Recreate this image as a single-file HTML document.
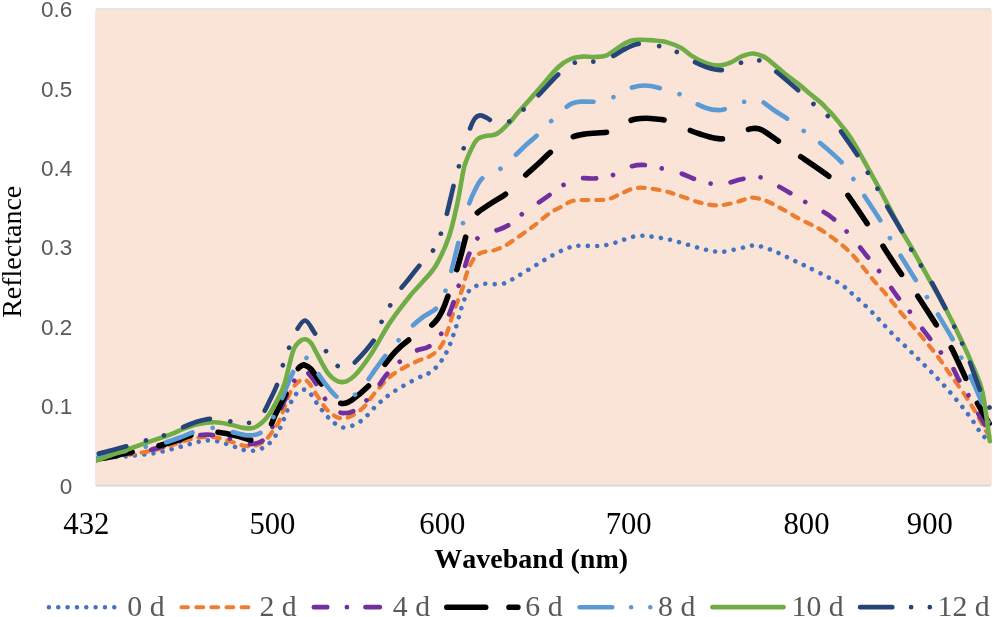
<!DOCTYPE html>
<html><head><meta charset="utf-8"><title>Reflectance</title>
<style>html,body{margin:0;padding:0;background:#fff;overflow:hidden}svg{display:block;transform:translateZ(0);will-change:transform}text{font-family:"Liberation Serif",serif}.s{font-family:"Liberation Sans",sans-serif}</style>
</head><body>
<svg width="993" height="617" viewBox="0 0 993 617">
<rect x="0" y="0" width="993" height="617" fill="#ffffff"/>
<rect x="95.1" y="9.5" width="896.7" height="475.5" fill="#FAE4D7"/>
<line x1="96" y1="9.0" x2="991" y2="9.0" stroke="#E1DEDA" stroke-width="1.3"/>
<line x1="95.5" y1="485.6" x2="991" y2="485.6" stroke="#D5D8DA" stroke-width="1.6"/>
<clipPath id="c"><rect x="96" y="0" width="897" height="617"/></clipPath>
<g fill="none" stroke-linecap="round" stroke-linejoin="round" clip-path="url(#c)">
<path d="M95.5 460.0C97.4 459.6 102.1 458.1 107.1 457.5C112.0 456.9 120.7 456.8 125.2 456.5C129.7 456.2 129.8 456.0 134.3 455.5C138.8 455.0 146.4 454.5 152.4 453.5C158.4 452.5 164.6 451.0 170.6 449.5C176.6 448.0 184.2 445.6 188.7 444.4C193.2 443.1 194.8 442.7 197.8 442.0C200.8 441.3 203.8 440.6 206.8 440.4C209.8 440.2 212.9 440.5 215.9 441.0C218.9 441.5 221.9 442.5 224.9 443.4C227.9 444.3 231.1 445.5 234.0 446.5C236.9 447.5 239.2 448.8 242.1 449.5C244.9 450.2 248.1 451.0 251.1 450.9C254.1 450.8 257.3 450.2 260.2 449.1C263.1 448.0 265.8 446.3 268.2 444.4C270.6 442.4 272.3 440.1 274.3 437.4C276.3 434.7 277.4 433.8 280.0 428.4C282.6 423.0 286.9 410.7 289.7 404.8C292.5 398.9 294.6 395.5 297.0 393.0C299.4 390.5 302.1 389.6 304.3 389.6C306.5 389.6 308.1 391.0 310.0 393.0C311.9 395.0 312.6 397.5 315.7 401.6C318.8 405.7 324.0 413.5 328.6 417.8C333.2 422.1 337.8 427.0 343.2 427.5C348.6 428.0 355.3 424.8 361.0 421.0C366.7 417.2 371.8 409.7 377.2 404.8C382.6 399.9 387.0 396.1 393.5 391.8C400.0 387.5 409.6 382.4 416.1 378.9C422.6 375.4 427.5 374.9 432.4 370.8C437.3 366.8 441.5 361.4 445.3 354.6C449.1 347.8 452.0 338.9 455.0 330.2C458.0 321.5 460.8 309.2 463.1 302.7C465.4 296.2 466.9 293.8 469.0 291.0C471.1 288.2 473.2 287.3 475.8 286.1C478.4 284.9 480.3 284.2 484.8 283.8C489.3 283.4 497.3 285.0 502.7 283.8C508.1 282.6 512.1 279.2 517.2 276.4C522.3 273.5 528.1 269.9 533.5 266.7C538.9 263.4 544.3 259.9 549.7 256.9C555.1 253.9 561.3 250.6 565.9 248.8C570.5 247.0 572.4 246.4 577.2 245.9C582.1 245.4 590.5 246.1 595.0 246.0C599.5 245.9 601.0 245.9 604.1 245.4C607.2 244.9 610.7 244.0 613.7 243.1C616.7 242.2 619.4 241.2 622.3 240.2C625.2 239.2 628.3 237.8 631.3 237.1C634.3 236.4 637.4 235.9 640.4 235.8C643.4 235.7 645.0 235.7 649.5 236.3C654.0 236.9 661.7 237.9 667.7 239.2C673.8 240.5 679.8 242.4 685.8 244.1C691.8 245.8 698.2 248.0 704.0 249.3C709.8 250.6 715.0 252.0 720.8 251.9C726.6 251.8 734.3 249.6 739.0 248.6C743.7 247.6 746.1 246.5 749.2 246.0C752.3 245.5 754.5 245.3 757.4 245.7C760.3 246.1 763.8 247.4 766.7 248.3C769.6 249.2 772.2 250.2 775.0 251.4C777.8 252.6 780.4 253.9 783.3 255.3C786.2 256.7 789.5 258.3 792.3 259.7C795.1 261.1 797.4 262.3 800.2 263.6C803.0 264.9 804.8 265.6 809.0 267.7C813.2 269.8 820.0 273.1 825.4 275.9C830.8 278.7 836.7 281.3 841.6 284.7C846.5 288.1 850.0 291.9 854.6 296.0C859.2 300.1 864.6 304.8 869.2 309.3C873.8 313.8 877.9 318.5 882.1 322.9C886.3 327.3 890.2 331.6 894.5 335.9C898.8 340.2 903.7 344.6 908.1 348.9C912.5 353.2 916.7 357.5 921.0 361.8C925.3 366.1 929.7 370.3 934.0 374.8C938.3 379.3 942.7 383.9 947.0 388.7C951.3 393.5 956.7 400.2 959.7 403.8C962.7 407.4 963.1 407.7 964.9 410.0C966.6 412.3 968.4 414.9 970.2 417.4C972.0 419.9 974.0 422.6 975.7 425.1C977.4 427.6 978.7 430.2 980.2 432.3C981.8 434.4 983.5 436.1 985.0 437.5C986.5 438.9 988.3 440.4 989.0 441.0" stroke="#4472C4" stroke-width="4.6" stroke-dasharray="0.01 9.32" stroke-dashoffset="-2.5"/>
<path d="M95.5 459.8C98.6 459.2 106.4 457.3 114.2 456.1C122.0 454.9 134.7 453.8 142.4 452.5C150.1 451.2 154.5 450.1 160.5 448.5C166.5 446.9 172.9 444.5 178.6 442.8C184.3 441.1 189.3 439.4 194.7 438.4C200.1 437.4 205.4 436.5 210.8 436.8C216.2 437.1 221.6 438.9 227.0 440.4C232.4 441.8 238.4 444.6 243.1 445.5C247.8 446.4 251.5 446.4 255.2 445.5C258.9 444.6 262.2 442.9 265.2 440.4C268.2 437.9 270.8 433.9 273.3 430.4C275.8 426.9 277.3 425.5 280.0 419.4C282.7 413.2 287.0 399.4 289.7 393.5C292.4 387.6 293.8 386.3 296.0 384.0C298.2 381.7 300.8 379.7 303.0 379.5C305.2 379.3 306.9 380.7 309.0 383.0C311.1 385.3 312.4 388.8 315.7 393.5C319.0 398.2 324.0 407.2 328.6 411.3C333.2 415.4 337.8 418.7 343.2 418.4C348.6 418.1 355.3 414.4 361.0 409.7C366.7 405.0 371.8 396.1 377.2 390.2C382.6 384.2 387.0 378.8 393.5 374.0C400.0 369.2 409.6 364.9 416.1 361.7C422.6 358.5 427.8 358.0 432.4 354.6C437.0 351.2 440.2 348.6 443.7 341.6C447.2 334.6 450.2 321.4 453.4 312.4C456.6 303.4 460.7 293.9 462.8 287.8C464.9 281.7 464.8 279.2 466.0 275.5C467.2 271.8 468.6 268.6 469.9 265.8C471.2 263.0 472.5 260.4 473.8 258.6C475.1 256.8 476.1 255.9 477.7 254.8C479.3 253.7 481.3 252.6 483.6 252.0C485.9 251.4 488.9 251.5 491.3 251.0C493.7 250.5 495.6 249.7 497.8 248.9C500.0 248.1 502.1 247.5 504.3 246.3C506.5 245.2 508.6 243.4 510.8 242.0C513.0 240.6 513.5 240.3 517.3 237.7C521.1 235.0 528.1 230.2 533.5 226.1C538.9 222.0 545.3 216.3 549.7 213.2C554.1 210.1 556.1 209.6 560.0 207.5C563.9 205.4 568.2 202.1 573.0 200.8C577.8 199.6 582.9 200.2 588.5 200.0C594.1 199.8 601.5 200.4 606.7 199.5C611.9 198.6 615.6 196.0 619.7 194.3C623.8 192.6 627.4 190.2 631.3 189.1C635.2 188.0 637.6 187.5 643.0 187.8C648.4 188.1 657.8 189.6 663.8 190.9C669.8 192.2 673.3 193.7 679.3 195.6C685.3 197.5 693.5 200.9 700.0 202.6C706.5 204.2 712.1 205.6 718.2 205.5C724.3 205.4 731.8 203.2 736.4 202.1C741.0 201.0 743.2 199.8 746.0 199.0C748.8 198.2 749.7 197.3 753.0 197.6C756.3 197.9 761.1 199.0 765.9 200.8C770.6 202.6 775.9 205.6 781.5 208.6C787.1 211.6 793.7 215.8 799.7 219.0C805.8 222.2 812.2 224.8 817.8 228.0C823.4 231.2 828.1 234.5 833.4 238.4C838.6 242.3 844.6 247.0 849.3 251.5C854.0 256.0 857.4 260.6 861.5 265.5C865.6 270.4 869.8 275.8 874.0 280.8C878.2 285.8 882.7 290.3 887.0 295.4C891.3 300.5 895.7 306.5 900.0 311.6C904.3 316.7 908.6 321.2 912.9 326.2C917.2 331.2 921.6 336.4 925.9 341.7C930.2 346.9 934.5 352.2 938.6 357.7C942.7 363.2 946.1 368.6 950.3 374.5C954.5 380.4 959.6 387.1 963.8 393.4C968.0 399.6 972.0 406.0 975.5 412.0C979.0 418.0 982.7 425.3 985.0 429.3C987.3 433.3 988.6 434.9 989.3 436.0" stroke="#ED7D31" stroke-width="4.2" stroke-dasharray="6.8 7.9" stroke-dashoffset="-2.5"/>
<path d="M95.5 459.5C99.6 458.9 111.3 457.5 120.0 456.0C128.7 454.5 140.8 451.9 147.4 450.5C154.0 449.1 154.4 448.9 159.5 447.5C164.6 446.1 171.8 443.9 178.0 442.0C184.2 440.1 191.2 437.0 196.7 435.8C202.2 434.6 205.4 434.4 210.8 434.8C216.2 435.2 223.3 436.9 229.0 438.4C234.7 439.9 240.1 443.3 245.1 444.0C250.1 444.7 255.7 443.6 259.2 442.4C262.7 441.2 263.8 439.5 266.0 437.0C268.2 434.5 270.0 431.6 272.3 427.3C274.6 423.0 277.6 416.4 280.0 411.0C282.4 405.6 284.7 399.8 287.0 395.0C289.3 390.2 291.4 385.8 293.6 382.0C295.8 378.2 298.2 374.0 300.0 372.0C301.8 370.0 303.0 369.9 304.3 370.0C305.6 370.1 306.0 370.6 307.6 372.4C309.2 374.1 311.0 376.0 314.0 380.5C317.0 385.0 321.3 394.2 325.4 399.3C329.4 404.4 335.1 409.0 338.3 411.3C341.5 413.6 342.4 413.0 344.8 413.0C347.2 413.0 349.3 413.5 353.0 411.3C356.7 409.1 362.6 404.3 366.9 400.0C371.2 395.7 375.5 389.6 378.9 385.3C382.2 381.0 383.4 378.1 387.0 374.0C390.6 369.9 395.8 364.9 400.6 361.0C405.5 357.1 411.4 353.1 416.1 350.7C420.9 348.3 424.9 349.4 429.1 346.5C433.3 343.6 438.1 338.6 441.4 333.5C444.6 328.4 446.6 320.8 448.6 315.7C450.6 310.6 451.7 307.8 453.4 302.7C455.1 297.6 456.9 291.2 458.9 284.9C460.9 278.6 463.7 270.2 465.4 265.0C467.1 259.8 467.1 258.3 469.3 253.7C471.5 249.1 474.1 241.3 478.3 237.5C482.5 233.7 489.8 232.9 494.6 231.0C499.4 229.1 502.3 228.9 506.9 226.1C511.5 223.3 517.0 217.9 522.1 214.1C527.2 210.3 532.8 206.6 537.3 203.5C541.8 200.4 544.6 198.4 549.0 195.3C553.4 192.2 558.3 187.8 563.4 185.0C568.5 182.2 574.0 179.6 579.5 178.5C585.0 177.4 590.9 179.0 596.5 178.4C602.1 177.8 607.6 176.9 613.0 175.0C618.4 173.1 623.5 168.8 628.7 167.1C633.9 165.4 638.8 164.8 644.3 165.0C649.8 165.2 656.1 167.2 661.7 168.4C667.3 169.6 672.7 170.6 678.0 172.3C683.3 174.0 688.3 176.8 693.6 178.7C698.9 180.5 705.5 182.4 709.9 183.4C714.3 184.4 717.1 184.8 720.0 184.8C722.9 184.8 723.5 184.4 727.3 183.4C731.0 182.4 737.0 180.0 742.5 179.0C748.0 178.0 754.4 176.2 760.0 177.2C765.6 178.2 771.5 182.7 776.3 185.2C781.1 187.7 784.2 189.5 788.8 192.2C793.4 194.9 798.9 198.4 804.1 201.3C809.3 204.2 815.2 207.2 819.9 209.9C824.6 212.6 827.8 214.2 832.1 217.7C836.4 221.1 841.5 226.1 845.8 230.6C850.1 235.1 854.4 240.6 858.0 244.9C861.6 249.2 863.9 252.4 867.3 256.6C870.7 260.8 874.8 265.5 878.3 270.1C881.8 274.7 885.4 279.5 888.6 284.0C891.8 288.5 894.3 292.6 897.7 297.0C901.1 301.4 905.2 305.7 909.0 310.6C912.8 315.5 917.0 321.7 920.4 326.2C923.8 330.7 925.8 333.2 929.1 337.5C932.5 341.8 936.7 347.2 940.5 352.0C944.3 356.8 949.0 361.9 952.0 366.5C955.0 371.1 955.9 374.7 958.6 379.3C961.3 383.9 964.9 388.8 968.0 394.3C971.1 399.8 974.8 407.5 977.5 412.3C980.2 417.1 982.0 419.9 984.0 423.2C986.0 426.5 988.4 430.5 989.3 432.0" stroke="#7030A0" stroke-width="4.7" stroke-dasharray="13.1 17.2 0.01 20.836" stroke-dashoffset="-5.3"/>
<path d="M95.5 459.0C97.4 458.8 100.3 458.9 107.1 457.5C113.9 456.1 127.9 452.8 136.3 450.9C144.7 449.0 151.1 447.8 157.5 446.1C163.9 444.5 168.8 443.0 175.0 441.0C181.2 439.0 189.7 435.5 194.7 434.0C199.7 432.5 201.5 432.3 205.0 432.0C208.5 431.7 210.9 431.4 215.9 432.0C220.9 432.6 229.2 434.2 235.0 435.5C240.8 436.8 247.2 439.5 251.0 440.0C254.8 440.5 255.8 439.6 258.0 438.5C260.2 437.4 261.9 435.6 264.0 433.5C266.1 431.4 268.7 428.8 270.5 425.8C272.3 422.8 273.6 418.4 275.0 415.4C276.4 412.4 277.5 410.4 278.9 407.6C280.3 404.8 282.1 401.3 283.5 398.5C284.9 395.7 285.7 394.4 287.3 390.8C288.9 387.2 291.3 380.6 293.0 377.0C294.7 373.4 296.2 371.3 297.5 369.5C298.8 367.7 299.9 366.9 301.0 366.2C302.1 365.4 302.7 364.5 304.3 365.0C305.9 365.5 308.2 366.2 310.8 369.0C313.4 371.8 316.8 377.5 320.0 382.0C323.2 386.5 326.9 392.6 330.0 396.0C333.1 399.4 335.8 401.3 338.3 402.5C340.8 403.7 342.5 403.6 344.8 403.2C347.1 402.8 348.2 402.7 352.0 400.0C355.8 397.3 363.5 390.8 367.5 387.0C371.5 383.2 373.3 380.5 376.0 377.0C378.7 373.5 380.4 370.2 383.7 365.9C387.0 361.6 391.7 355.4 396.0 351.0C400.3 346.6 405.7 342.3 409.7 339.3C413.7 336.3 417.2 334.8 420.0 333.0C422.8 331.2 424.6 330.1 426.7 328.6C428.8 327.2 430.8 326.0 432.6 324.3C434.5 322.6 436.3 320.6 437.8 318.5C439.3 316.4 440.4 314.4 441.6 312.0C442.8 309.6 443.7 307.5 444.9 304.4C446.1 301.3 447.0 298.8 448.8 293.6C450.6 288.4 453.7 279.4 455.7 273.0C457.7 266.6 459.3 261.2 461.0 255.0C462.7 248.8 464.5 241.2 466.0 236.0C467.5 230.8 468.3 227.7 470.0 224.0C471.7 220.3 472.7 217.3 476.0 214.0C479.3 210.7 484.8 207.5 490.0 204.0C495.2 200.5 501.5 197.4 507.0 193.0C512.5 188.6 517.8 182.3 523.0 177.5C528.2 172.7 533.2 168.4 538.0 164.0C542.8 159.6 546.8 155.2 552.0 151.0C557.2 146.8 563.5 141.3 569.0 138.5C574.5 135.7 578.5 135.1 585.0 134.0C591.5 132.9 602.5 133.0 608.0 132.0C613.5 131.0 614.8 129.7 618.0 128.0C621.2 126.3 624.0 123.5 627.0 122.0C630.0 120.5 632.8 119.6 636.0 119.0C639.2 118.4 642.7 118.3 646.0 118.3C649.3 118.3 652.5 118.6 656.0 119.0C659.5 119.4 662.0 119.2 667.0 120.8C672.0 122.4 680.5 126.6 686.0 128.8C691.5 131.0 695.3 132.5 700.0 134.0C704.7 135.5 709.9 137.2 714.0 138.0C718.1 138.8 721.0 139.1 724.5 138.6C728.0 138.1 731.7 136.3 735.0 135.0C738.3 133.7 741.3 131.9 744.3 130.8C747.3 129.7 750.0 128.6 753.0 128.5C756.0 128.4 757.5 127.7 762.0 130.0C766.5 132.3 774.3 138.3 780.2 142.4C786.1 146.5 789.2 148.8 797.6 154.6C806.0 160.4 822.3 171.1 830.3 177.4C838.3 183.7 839.4 184.5 845.8 192.5C852.1 200.5 862.5 216.9 868.4 225.4C874.3 233.9 878.6 239.5 881.4 243.6C884.2 247.7 881.9 244.6 885.4 250.0C888.9 255.4 897.5 268.6 902.6 275.9C907.7 283.2 910.4 285.4 916.2 293.8C922.0 302.2 931.5 317.6 937.2 326.2C942.9 334.8 945.3 336.7 950.2 345.6C955.1 354.5 962.1 370.5 966.4 379.7C970.7 388.9 972.3 393.4 976.1 400.7C979.9 408.0 986.9 419.6 989.1 423.4" stroke="#000000" stroke-width="5.6" stroke-dasharray="33.6 27.742" stroke-dashoffset="-3.5"/>
<path d="M95.5 458.0C97.9 457.4 104.4 455.8 110.0 454.5C115.6 453.2 123.1 451.4 129.3 450.1C135.5 448.8 141.1 447.7 147.0 446.5C152.9 445.3 159.0 444.3 164.5 442.8C170.0 441.3 174.8 439.4 180.0 437.5C185.2 435.6 190.1 433.0 195.7 431.4C201.2 429.8 207.6 427.9 213.3 427.9C219.0 427.9 224.4 430.1 230.0 431.4C235.6 432.6 241.9 435.2 247.1 435.4C252.3 435.6 256.8 435.4 261.2 432.4C265.6 429.4 269.9 422.7 273.3 417.3C276.7 411.9 279.1 405.1 281.3 400.0C283.5 394.9 284.3 392.2 286.5 387.0C288.7 381.8 292.4 373.3 294.6 369.0C296.9 364.7 298.1 362.9 300.0 361.0C301.9 359.1 304.2 357.6 306.0 357.8C307.8 358.0 309.1 359.6 311.0 362.0C312.9 364.4 314.6 368.4 317.3 372.4C320.0 376.4 323.8 381.9 327.0 386.0C330.2 390.1 333.7 394.4 336.7 396.7C339.7 398.9 342.0 399.8 345.0 399.5C348.0 399.2 351.3 397.6 354.6 395.0C357.9 392.4 361.5 388.3 365.0 384.0C368.5 379.7 372.2 373.7 375.6 369.0C379.0 364.3 381.5 360.7 385.3 356.0C389.1 351.3 394.0 345.4 398.3 340.6C402.6 335.8 407.2 330.9 411.3 327.0C415.4 323.1 418.9 320.0 423.0 317.0C427.1 314.0 432.6 311.8 435.6 309.0C438.6 306.2 439.4 302.9 441.0 300.0C442.6 297.1 443.7 295.8 445.3 291.3C446.9 286.8 448.5 281.4 450.8 273.0C453.1 264.6 456.8 249.0 458.9 240.7C460.9 232.3 461.5 228.8 463.1 222.9C464.7 217.0 466.6 210.5 468.6 205.0C470.6 199.5 472.6 194.6 475.0 190.0C477.4 185.4 479.0 181.0 483.2 177.5C487.4 174.0 495.3 172.3 500.4 168.8C505.5 165.3 509.7 160.5 514.0 156.5C518.3 152.5 522.0 148.7 526.0 145.0C530.0 141.3 534.1 138.2 538.3 134.3C542.5 130.4 546.6 125.6 551.0 121.3C555.4 117.0 561.0 111.6 564.5 108.6C568.0 105.6 569.3 104.7 572.0 103.5C574.7 102.3 576.5 101.9 580.6 101.6C584.7 101.3 591.2 102.2 596.7 101.5C602.2 100.8 608.0 99.3 613.4 97.1C618.8 94.9 623.6 90.4 628.9 88.5C634.2 86.6 639.6 85.5 645.0 85.5C650.4 85.5 655.5 87.1 661.1 88.5C666.8 89.9 673.4 91.6 678.9 93.9C684.4 96.2 689.6 100.2 694.1 102.6C698.6 104.9 702.0 106.7 706.0 108.0C710.0 109.3 714.9 110.1 718.3 110.2C721.7 110.3 722.2 109.9 726.3 108.6C730.4 107.3 738.3 103.7 743.0 102.2C747.7 100.7 751.6 99.9 754.5 99.6C757.4 99.3 757.4 98.9 760.6 100.6C763.8 102.3 769.1 106.8 773.7 110.0C778.3 113.2 783.6 116.2 788.4 119.5C793.2 122.8 797.7 126.5 802.5 130.0C807.3 133.5 810.6 135.1 817.3 140.6C824.0 146.1 836.6 157.0 842.5 163.2C848.4 169.4 849.5 173.0 852.8 178.0C856.1 183.0 857.6 185.7 862.4 193.0C867.2 200.3 876.8 214.7 881.4 222.1C886.0 229.5 886.8 232.5 889.7 237.6C892.6 242.7 894.4 245.5 898.8 252.7C903.2 259.9 911.5 273.4 916.2 280.8C920.9 288.2 923.4 291.6 926.9 297.0C930.4 302.4 932.8 305.9 937.2 313.2C941.6 320.5 949.5 333.5 953.5 340.8C957.5 348.1 958.2 351.3 960.9 357.0C963.6 362.7 966.4 367.5 969.7 374.8C973.1 382.1 977.7 392.3 981.0 400.7C984.3 409.1 987.9 420.9 989.3 425.0" stroke="#5B9BD5" stroke-width="4.7" stroke-dasharray="28.3 20.6 0.01 20.796" stroke-dashoffset="-2.6"/>
<path d="M95.5 460.8C97.9 459.9 104.3 457.6 110.1 455.5C115.9 453.4 123.6 450.9 130.3 448.5C137.0 446.1 143.7 443.8 150.4 441.4C157.1 439.0 164.9 436.6 170.6 434.4C176.3 432.2 180.0 430.1 184.7 428.3C189.4 426.6 193.8 424.9 198.8 423.9C203.8 422.9 209.5 422.2 214.9 422.3C220.3 422.4 226.3 423.8 231.0 424.7C235.7 425.6 239.4 427.4 243.1 427.9C246.8 428.4 250.1 428.7 253.1 427.9C256.1 427.1 258.5 425.6 261.2 423.3C263.9 421.0 266.6 418.1 269.3 414.2C272.0 410.3 274.8 405.1 277.3 400.1C279.8 395.1 281.8 392.1 284.4 384.0C287.0 375.9 290.6 358.3 293.0 351.3C295.4 344.3 296.9 344.0 299.0 342.0C301.1 340.0 303.3 339.1 305.3 339.3C307.3 339.5 309.3 341.0 311.0 343.0C312.7 345.0 312.8 346.1 315.7 351.3C318.6 356.5 324.3 368.9 328.6 374.0C332.9 379.1 337.3 381.8 341.6 382.1C345.9 382.4 349.7 380.2 354.6 375.6C359.5 371.0 364.9 363.5 370.8 354.6C376.7 345.7 383.7 331.8 390.2 322.1C396.7 312.4 404.4 302.8 409.7 296.2C415.0 289.6 417.6 287.7 422.0 282.5C426.4 277.3 431.7 272.8 436.2 265.0C440.7 257.2 445.7 246.2 449.2 235.9C452.7 225.7 454.9 214.5 457.3 203.5C459.7 192.5 462.0 177.2 463.5 170.0C465.0 162.8 465.4 163.2 466.5 160.3C467.6 157.4 468.4 155.3 469.8 152.3C471.2 149.3 473.5 144.5 475.0 142.2C476.5 139.8 477.2 139.2 478.9 138.2C480.6 137.1 483.2 136.4 485.4 135.9C487.6 135.4 489.9 135.6 491.9 135.2C493.8 134.8 495.4 134.5 497.1 133.6C498.8 132.7 500.6 131.1 502.3 129.6C504.0 128.1 505.7 126.3 507.4 124.6C509.1 122.9 510.9 121.2 512.6 119.2C514.3 117.2 515.8 115.0 517.8 112.7C519.8 110.4 522.1 108.0 524.3 105.6C526.5 103.2 528.1 101.4 530.8 98.4C533.5 95.4 535.7 92.6 540.3 87.4C544.9 82.2 553.4 71.7 558.4 67.0C563.4 62.3 566.5 60.7 570.5 59.0C574.5 57.3 578.6 56.9 582.6 56.6C586.6 56.3 590.7 57.2 594.7 57.0C598.7 56.8 602.4 57.1 606.7 55.3C611.1 53.4 616.8 48.3 620.8 45.9C624.8 43.5 627.5 41.8 630.9 40.8C634.3 39.8 637.3 39.9 641.0 39.8C644.7 39.7 648.7 40.0 653.1 40.4C657.5 40.8 662.5 41.1 667.2 42.4C671.9 43.7 677.1 45.8 681.3 48.1C685.4 50.4 688.0 53.6 692.1 56.1C696.2 58.6 701.8 61.6 706.2 63.2C710.6 64.8 714.3 65.7 718.3 65.6C722.3 65.5 726.4 64.2 730.4 62.6C734.4 61.0 738.5 57.6 742.4 56.1C746.2 54.6 749.8 53.3 753.5 53.5C757.2 53.7 761.4 55.4 764.6 57.1C767.9 58.8 770.3 61.4 773.0 63.6C775.7 65.8 778.6 68.4 780.7 70.2C782.9 72.0 782.9 72.2 785.9 74.6C788.9 77.0 794.6 80.9 798.9 84.4C803.2 87.9 808.2 92.4 811.9 95.4C815.6 98.5 818.3 100.3 821.0 102.7C823.7 105.1 826.0 107.9 828.0 110.0C830.0 112.1 830.9 112.8 833.0 115.2C835.1 117.6 838.3 121.6 840.4 124.2C842.5 126.8 843.9 128.4 845.6 130.6C847.3 132.8 848.6 134.7 850.5 137.5C852.4 140.3 854.6 144.1 856.7 147.7C858.8 151.3 860.8 155.1 863.0 159.0C865.2 162.9 867.4 166.9 869.7 171.1C872.0 175.3 874.4 179.5 877.0 184.3C879.6 189.1 881.3 192.3 885.3 199.8C889.3 207.3 896.2 220.9 900.8 229.3C905.4 237.7 908.2 241.7 912.9 250.0C917.6 258.3 923.7 269.5 929.1 279.2C934.5 288.9 940.0 298.0 945.4 308.3C950.8 318.6 956.8 330.5 961.6 340.8C966.5 351.1 971.0 361.3 974.5 369.9C978.0 378.5 980.1 380.7 982.6 392.6C985.1 404.5 988.6 433.1 989.8 441.2" stroke="#70AD47" stroke-width="4.6"/>
<path d="M95.5 454.5C101.1 453.0 120.8 447.9 129.3 445.5C137.8 443.1 140.6 442.1 146.4 440.4C152.2 438.7 158.0 437.5 163.9 435.4C169.8 433.3 176.2 430.1 181.6 427.9C186.9 425.7 190.9 423.5 196.0 422.0C201.1 420.5 206.2 418.8 211.9 418.7C217.6 418.6 224.0 420.6 230.0 421.3C236.0 422.0 243.8 423.1 248.1 422.9C252.4 422.7 253.5 421.6 256.0 420.0C258.5 418.4 260.9 416.5 263.2 413.2C265.5 409.9 267.6 404.9 270.0 400.0C272.4 395.1 275.2 389.7 277.3 384.0C279.4 378.3 280.7 372.0 282.6 366.0C284.6 360.0 286.7 353.9 289.0 348.0C291.3 342.1 293.8 335.1 296.5 330.5C299.2 325.9 302.4 320.2 305.3 320.5C308.2 320.8 310.8 327.3 314.0 332.0C317.2 336.7 320.8 343.3 324.4 348.7C328.0 354.1 332.4 360.9 335.8 364.3C339.2 367.7 341.9 369.0 344.8 369.0C347.7 369.0 348.1 369.1 353.0 364.3C357.9 359.5 369.2 347.1 374.0 340.0C378.8 332.9 378.8 327.8 381.5 322.0C384.2 316.2 387.1 310.7 390.2 305.3C393.3 299.9 397.0 293.9 400.0 289.7C403.0 285.5 404.7 284.1 408.0 280.0C411.3 275.9 415.8 269.9 420.0 265.0C424.2 260.1 429.5 255.8 433.0 250.5C436.5 245.2 438.7 239.2 441.0 233.3C443.3 227.4 444.4 223.0 446.6 214.8C448.8 206.6 451.9 192.1 454.0 184.0C456.1 175.9 457.3 172.2 458.9 166.2C460.5 160.1 462.1 153.6 463.8 147.7C465.5 141.8 467.5 135.3 469.3 130.5C471.1 125.7 472.7 121.5 474.5 119.0C476.3 116.5 477.9 115.5 480.0 115.3C482.1 115.1 484.9 116.9 487.0 118.0C489.1 119.1 490.7 120.9 492.9 121.8C495.1 122.7 497.3 123.5 500.0 123.5C502.7 123.5 505.2 123.8 509.1 121.5C513.0 119.2 518.5 114.0 523.2 109.8C527.9 105.6 531.4 102.4 537.3 96.5C543.2 90.6 552.3 80.0 558.4 74.4C564.5 68.8 568.4 65.0 574.1 62.9C579.8 60.8 586.6 62.6 592.6 61.7C598.6 60.8 605.0 59.4 610.4 57.3C615.8 55.2 620.2 51.2 625.0 49.0C629.8 46.8 633.5 44.3 639.0 43.8C644.5 43.3 651.7 44.6 657.7 45.8C663.7 47.0 669.6 48.8 675.2 51.2C680.8 53.6 686.1 57.7 691.2 60.3C696.3 62.9 700.8 65.4 706.0 67.0C711.2 68.6 716.8 70.6 722.3 70.0C727.8 69.4 733.2 65.0 739.0 63.3C744.8 61.6 751.5 59.0 757.1 59.9C762.7 60.8 765.7 63.8 772.6 68.9C779.5 74.0 791.9 84.9 798.4 90.5C804.9 96.1 807.2 98.6 811.9 102.6C816.6 106.6 821.9 110.4 826.4 114.7C830.9 119.0 833.4 121.4 838.6 128.2C843.8 135.0 852.8 148.2 857.5 155.4C862.2 162.6 863.9 166.2 867.1 171.5C870.3 176.8 873.7 182.0 876.7 187.3C879.7 192.6 881.1 196.0 885.3 203.4C889.5 210.8 897.9 224.3 902.1 231.9C906.3 239.5 907.7 243.4 910.7 248.8C913.7 254.2 916.9 259.2 920.3 264.5C923.6 269.8 926.6 273.5 930.8 280.8C935.0 288.1 941.5 300.7 945.4 308.3C949.3 315.9 951.4 320.5 954.1 326.2C956.8 331.9 959.0 336.5 961.6 342.4C964.2 348.3 966.5 353.4 969.7 361.8C972.9 370.2 978.4 386.1 981.0 392.6C983.6 399.1 984.1 398.6 985.5 401.0C986.9 403.4 988.3 405.6 989.3 407.2C990.3 408.8 991.1 410.2 991.5 410.8" stroke="#264478" stroke-width="4.7" stroke-dasharray="28.3 20.6 0.01 18.6 0.01 20.844" stroke-dashoffset="-3.5"/>
</g>
<text class="s" x="72.2" y="17.2" font-size="22.5" fill="#595959" text-anchor="end">0.6</text>
<text class="s" x="72.2" y="96.6" font-size="22.5" fill="#595959" text-anchor="end">0.5</text>
<text class="s" x="72.2" y="176.0" font-size="22.5" fill="#595959" text-anchor="end">0.4</text>
<text class="s" x="72.2" y="255.4" font-size="22.5" fill="#595959" text-anchor="end">0.3</text>
<text class="s" x="72.2" y="334.7" font-size="22.5" fill="#595959" text-anchor="end">0.2</text>
<text class="s" x="72.2" y="414.1" font-size="22.5" fill="#595959" text-anchor="end">0.1</text>
<text class="s" x="72.2" y="493.5" font-size="22.5" fill="#595959" text-anchor="end">0</text>
<text x="86.3" y="534.3" font-size="30.7" fill="#000" text-anchor="middle">432</text>
<text x="272.4" y="534.3" font-size="30.7" fill="#000" text-anchor="middle">500</text>
<text x="442.3" y="534.3" font-size="30.7" fill="#000" text-anchor="middle">600</text>
<text x="628.7" y="534.3" font-size="30.7" fill="#000" text-anchor="middle">700</text>
<text x="806.5" y="534.3" font-size="30.7" fill="#000" text-anchor="middle">800</text>
<text x="929.8" y="534.3" font-size="30.7" fill="#000" text-anchor="middle">900</text>
<text x="531.2" y="567.5" font-size="28" font-weight="bold" fill="#000" text-anchor="middle" style="font-kerning:none">Waveband (nm)</text>
<text transform="translate(21.2,251.8) rotate(-90)" font-size="28" fill="#000" text-anchor="middle">Reflectance</text>
<g fill="none" stroke-linecap="round">
<path d="M48.9 607.2H116" stroke="#4472C4" stroke-width="4.5" stroke-dasharray="0.01 9.33"/>
<path d="M181.5 607.2H187.9M196.3 607.2H203.2M211.4 607.2H218.1M226.5 607.2H233.2M241.6 607.2H248.3" stroke="#ED7D31" stroke-width="4.1"/>
<path d="M313.9 607.2H327.2M346.9 607.2h0.01M365.5 607.2H379.8" stroke="#7030A0" stroke-width="4.8"/>
<path d="M446.8 607.2H485.7M509 607.2H517.9" stroke="#000" stroke-width="5.6"/>
<path d="M579.6 607.2H612.3M631.1 607.2h0.01M650.3 607.2h0.01" stroke="#5B9BD5" stroke-width="4.6"/>
<path d="M712.5 607.2H783.5" stroke="#70AD47" stroke-width="4.7"/>
<path d="M860.1 607.2H892.3M911.1 607.2h0.01M929.8 607.2h0.01" stroke="#264478" stroke-width="4.7"/>
</g>
<text transform="translate(127.3,615.5) scale(1,1.02)" font-size="29.8" fill="#595959">0 d</text>
<text transform="translate(259.5,615.5) scale(1,1.02)" font-size="29.8" fill="#595959">2 d</text>
<text transform="translate(392.8,615.5) scale(1,1.02)" font-size="29.8" fill="#595959">4 d</text>
<text transform="translate(525.3,615.5) scale(1,1.02)" font-size="29.8" fill="#595959">6 d</text>
<text transform="translate(658.1,615.5) scale(1,1.02)" font-size="29.8" fill="#595959">8 d</text>
<text transform="translate(791.5,615.5) scale(1,1.02)" font-size="29.8" fill="#595959">10 d</text>
<text transform="translate(937.5,615.5) scale(1,1.02)" font-size="29.8" fill="#595959">12 d</text>
</svg></body></html>
